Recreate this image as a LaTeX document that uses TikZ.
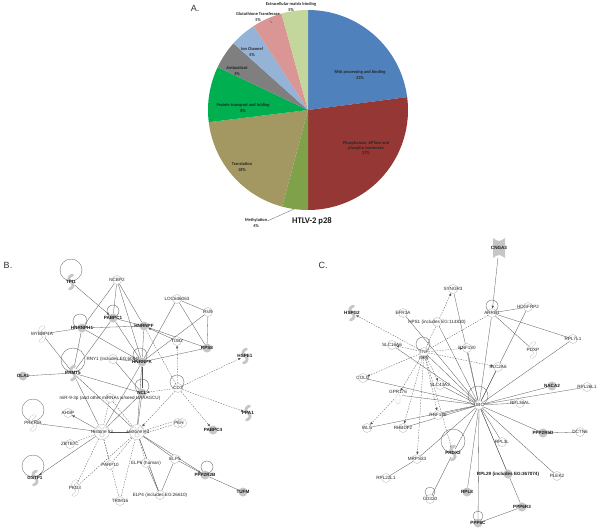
\documentclass[tikz,border=0pt]{standalone}
\usepackage{fontspec}
\setmainfont{Liberation Sans}
\newfontfamily\calfont{Carlito}
\usetikzlibrary{arrows.meta,calc}
\pgfdeclarelayer{bg}
\pgfdeclarelayer{paper}
\pgfsetlayers{paper,bg,main}
\newcommand{\netf}{\fontsize{4.6}{5}\selectfont}
\newcommand{\netfb}{\fontsize{4.6}{5}\selectfont\bfseries}
\newcommand{\Fm}[4]{\node[fm] (#1) at (#2,#3) {}; \node[lbb] (#1-t) at (#1) {#4};}
\newcommand{\Nd}[4]{\node[nd] (#1) at (#2,#3) {}; \node[lb] (#1-t) at (#1) {#4};}
\newcommand{\Cg}[4]{\pic at (#2,#3) {curlg}; \node[cn] (#1) at (#2,#3) {}; \node[lbb] (#1-t) at (#1) {#4};}
\newcommand{\Cw}[4]{\pic at (#2,#3) {curlw}; \node[cn] (#1) at (#2,#3) {}; \node[lb] (#1-t) at (#1) {#4};}
\definecolor{pblue}{HTML}{4F81BD}
\definecolor{pred}{HTML}{953735}
\definecolor{pmeth}{HTML}{7FA14A}
\definecolor{ptrans}{HTML}{A39862}
\definecolor{pgreen}{HTML}{00B050}
\definecolor{pgray}{HTML}{7F7F7F}
\definecolor{pion}{HTML}{95B3D7}
\definecolor{ppink}{HTML}{D99694}
\definecolor{plgreen}{HTML}{C3D69B}
\definecolor{edc}{HTML}{555555}
\tikzset{
  nd/.style={circle, draw=gray!60, fill=white, line width=0.3pt, minimum size=9pt, inner sep=0pt},
  fm/.style={circle, fill=gray!45, draw=none, minimum size=9pt, inner sep=0pt},
  cn/.style={circle, minimum size=9pt, inner sep=0pt},
  lb/.style={font=\netf, text=black!85, inner sep=0pt},
  lbb/.style={font=\netfb, text=black!90, inner sep=0pt},
  ed/.style={draw=edc, line width=0.3pt},
  dd/.style={ed, dash pattern=on 1.5pt off 1.2pt},
  ar/.style={-{Triangle[length=2.6pt,width=2.2pt]}},
  loopc/.style={draw=gray!70!black, line width=0.3pt},
  pl/.style={font=\calfont\bfseries\fontsize{4.4}{5.2}\selectfont, align=center, text=black!85, inner sep=0pt},
  pics/curlg/.style={code={\draw[line width=2.8pt, line cap=round, gray!45] (1.5,-7) .. controls (-3,-6) and (-3,-1) .. (0,0) .. controls (3,1) and (3,6) .. (-1.5,7);}},
  pics/curlw/.style={code={\draw[line width=3.2pt, line cap=round, gray!60] (1.5,-7) .. controls (-3,-6) and (-3,-1) .. (0,0) .. controls (3,1) and (3,6) .. (-1.5,7);
     \draw[line width=2.6pt, line cap=round, white] (1.5,-7) .. controls (-3,-6) and (-3,-1) .. (0,0) .. controls (3,1) and (3,6) .. (-1.5,7);}},
}
\begin{document}
\begin{tikzpicture}[x=1pt,y=-1pt]
\useasboundingbox (0,0) rectangle (600,530);
\begin{pgfonlayer}{paper}
\fill[white] (0,0) rectangle (600,530);
\end{pgfonlayer}

% ---------------- Panel A: pie ----------------
\begin{scope}[shift={(308,110)},x=1pt,y=1pt]
\fill[pblue] (0,0) -- (90:100) arc[start angle=90,end angle=7.4,radius=100] -- cycle;
\fill[pred] (0,0) -- (7.4:100) arc[start angle=7.4,end angle=-90,radius=100] -- cycle;
\fill[pmeth] (0,0) -- (-90:100) arc[start angle=-90,end angle=-105,radius=100] -- cycle;
\fill[ptrans] (0,0) -- (-105:100) arc[start angle=-105,end angle=-173,radius=100] -- cycle;
\fill[pgreen] (0,0) -- (-173:100) arc[start angle=-173,end angle=-205.4,radius=100] -- cycle;
\fill[pgray] (0,0) -- (-205.4:100) arc[start angle=-205.4,end angle=-221.8,radius=100] -- cycle;
\fill[pion] (0,0) -- (-221.8:100) arc[start angle=-221.8,end angle=-237.1,radius=100] -- cycle;
\fill[ppink] (0,0) -- (-237.1:100) arc[start angle=-237.1,end angle=-254.6,radius=100] -- cycle;
\fill[plgreen] (0,0) -- (-254.6:100) arc[start angle=-254.6,end angle=-270,radius=100] -- cycle;
\end{scope}
\node[font=\fontsize{9}{10}\selectfont, text=black!80] (labA) at (195,8) {A.};
\node[pl] (lrna) at (360,75) {RNA processing and binding\\23\%};
\node[pl] (lpho) at (366,148) {Phosphatase, APTase and\\phospho isomerase\\27\%};
\node[pl] (ltra) at (242,167) {Translation\\18\%};
\node[pl] (lpro) at (243,108) {Protein transport and folding\\8\%};
\node[pl] (lant) at (237,71) {Antioxidant\\4\%};
\node[pl] (lion) at (252,52) {Ion Channel\\5\%};
\node[pl] (lglu) at (258,17) {Glutathione Transferase\\5\%};
\node[pl] (lext) at (291,7) {Extracellular matrix binding\\5\%};
\node[pl] (lmet) at (256,223) {Methylation\\4\%};
\coordinate (metp) at (294,209);
\coordinate (glup) at (272,23);
\draw[gray!70!black, line width=0.3pt] (lmet.east) ++(0,-2) -- (metp);
\draw[gray!70!black, line width=0.3pt] (lglu.south east) ++(-10,-1) -- (glup);
\node[font=\calfont\bfseries\fontsize{8.6}{10}\selectfont, text=black!90] (htlv) at (312,221) {HTLV-2 p28};

\node[font=\fontsize{9}{10}\selectfont, text=black!80] (labB) at (8,265) {B.};
\node[font=\fontsize{9}{10}\selectfont, text=black!80] (labC) at (323,265) {C.};

% ---------------- Panel B ----------------
\draw[loopc] (71,270) circle[radius=11];
\draw[loopc] (113,311) circle[radius=6];
\draw[loopc] (80,321) circle[radius=7];
\draw[loopc] (73,360) circle[radius=12];
\draw[loopc] (140,355) circle[radius=7];
\draw[loopc] (142,386) circle[radius=7];
\draw[loopc] (177,382) circle[radius=7];
\draw[loopc] (33,410) circle[radius=11];
\draw[loopc] (33,466) circle[radius=11];
\draw[loopc] (207,467) circle[radius=6];

\Cg{tpi}{71}{282}{TPI1}
\Nd{ncbp2}{117}{280}{NCBP2}
\Fm{pabpc1}{113}{318}{PABPC1}
\Fm{hnrnph1}{82}{328}{HNRNPH1}
\Cw{mybbp}{42}{334}{MYBBP1A}
\Cg{prmt5}{73}{373}{PRMT5}
\Fm{ola1}{23}{376}{OLA1}
\Nd{rny1}{113}{359}{RNY1 (includes EG:6084)}
\Fm{hnrnpf}{144}{326}{HNRNPF}
\Fm{hnrnpk}{142}{362}{HNRNPK}
\Fm{ncl}{142}{393}{NCL}
\Nd{tob2}{177}{341}{TOB2}
\Nd{cd3}{178}{388}{CD3}
\Nd{loc}{177}{299}{LOC646063}
\Nd{rsl9}{208}{312}{Rsl9}
\Fm{rps8}{207}{348}{RPS8}
\Cg{hspe1}{245}{356}{HSPE1}
\Nd{mir}{110}{398}{miR-9-3p (and other miRNAs w/seed UAAAGCU)}
\Nd{ahsp}{68}{413}{AHSP}
\Cw{prkrir}{33}{423}{PRKRIR}
% complexes
\node[nd, minimum size=15pt] (h3) at (102,432) {};
\node[nd, minimum size=15pt] (h4) at (137,432) {};
\foreach \c/\dx/\dy in {h3/-3/-3, h3/3/-3, h3/0/3, h4/-3/-3, h4/3/-3, h4/0/3}
  \draw[gray!60, line width=0.3pt] ($(\c)+(\dx,\dy)$) circle[radius=2.2];
\node[lb] (h3-t) at (102,432) {Histone h3};
\node[lb] (h4-t) at (138,432) {Histone H4};
\Nd{zbtb}{70}{444}{ZBTB7C}
\Nd{parp10}{110}{465}{PARP10}
\Cg{gstp1}{35}{478}{GSTP1}
\Cw{pkd3}{75}{488}{PKD3}
\Nd{trim16}{120}{501}{TRIM16}
\Nd{elp4}{160}{495}{ELP4 (includes EG:26610)}
\Nd{elp6}{146}{463}{ELP6 (human)}
\Nd{elp5}{175}{459}{ELP5}
\node[nd] (peh) at (178,423) {};
\draw[gray!60, line width=0.3pt] (182,423) circle[radius=4.5];
\node[lb] (peh-t) at (179,423) {PEH};
\Fm{pabpc4}{213}{430}{PABPC4}
\Cg{ppa1}{248}{413}{PPA1}
\Fm{ppp2r2b}{205}{475}{PPP2R2B}
\Fm{tufm}{243}{492}{TUFM}

\begin{pgfonlayer}{bg}
\foreach \a/\b in {ncbp2/pabpc1, ncbp2/hnrnph1, ncbp2/hnrnpf, ncbp2/hnrnpk, pabpc1/prmt5, pabpc1/hnrnpk, pabpc1/hnrnpf,
  hnrnph1/hnrnpf, hnrnph1/mybbp, hnrnph1/prmt5, hnrnph1/hnrnpk, mybbp/prmt5, ola1/prmt5, prmt5/ncl, prmt5/h3, prmt5/h4,
  rny1/hnrnpk, rny1/ncl, hnrnpf/hnrnpk, hnrnpf/rps8, hnrnpk/loc, hnrnpk/rsl9, hnrnpk/rps8, hnrnpk/ncl, hnrnpk/h4, hnrnpk/h3,
  loc/rsl9, loc/rps8, rsl9/rps8, prkrir/h3, h3/h4, ncl/h4, ncl/h3, elp5/elp4, elp4/elp6, ppp2r2b/tufm, h4/elp5, h4/elp4, h4/ppp2r2b}
  \draw[ed] (\a) -- (\b);
\foreach \a/\b in {tpi/pabpc1, tob2/hnrnpf, h3/gstp1, h3/ahsp, elp5/ppp2r2b}
  \draw[ed,ar] (\a) -- (\b);
\foreach \a/\b in {cd3/tob2, cd3/hspe1, cd3/ncl, cd3/pabpc4, cd3/ppa1, cd3/h4}
  \draw[dd,ar] (\a) -- (\b);
\foreach \a/\b in {cd3/hnrnpf, h3/parp10, h3/pkd3, h3/trim16, h4/trim16, h4/parp10, h4/elp6, h3/zbtb, mir/h3, mir/h4, h4/pkd3, h4/elp4}
  \draw[dd] (\a) -- (\b);
\draw[dd] ([yshift=-1.5pt]h4.east) -- ([yshift=-1.5pt]peh.west);
\draw[dd] ([yshift=1.5pt]h4.east) -- ([yshift=1.5pt]peh.west);
\end{pgfonlayer}

% ---------------- Panel C ----------------
\draw[loopc] (423,344) circle[radius=7];
\draw[loopc] (492,306) circle[radius=6];
\draw[loopc] (478,396) circle[radius=10];
\draw[loopc] (453,441) circle[radius=12];
\draw[loopc] (478,516) circle[radius=5];
\draw[loopc] (430,492) circle[radius=5];

\fill[gray!45] (493,238) .. controls (499,242) .. (505,238) -- (505,258) .. controls (499,254) .. (493,258) -- cycle;
\node[minimum width=12pt, minimum height=20pt, inner sep=0pt] (cnga3) at (499,248) {};
\node[lbb] (cnga3-t) at (499,248) {CNGA3};
\Nd{syngr3}{453}{289}{SYNGR3}
\Cg{hspg2}{352}{313}{HSPG2}
\Nd{efr3a}{403}{313}{EFR3A}
\Nd{hps1}{437}{322}{HPS1 (includes EG:114830)}
\Nd{slc16a6}{392}{345}{SLC16A6}
\Nd{tnf}{424}{352}{TNF}
\node[lb] (nes-t) at (424,358) {NES};
\Nd{rnf130}{467}{348}{RNF130}
\Nd{colq}{363}{378}{COLQ}
\Nd{slc43a2}{440}{385}{SLC43A2}
\draw[gray!60, line width=0.3pt, fill=white, rounded corners=1.5pt] (396,394) rectangle (400,404);
\node[minimum size=8pt, inner sep=0pt] (gpr176) at (398,395) {};
\node[lb] (gpr176-t) at (398,392) {GPR176};
\Nd{arrb1}{492}{313}{ARRB1}
\Nd{hdgfrp2}{528}{307}{HDGFRP2}
\Nd{rpl7l1}{573}{339}{RPL7L1}
\Cw{pdxp}{533}{350}{PDXP}
\Nd{slc2a6}{498}{367}{SLC2A6}
\Fm{naca2}{552}{386}{NACA2}
\Nd{rpl26l1}{587}{387}{RPL26L1}
\Nd{ubc}{479}{405}{UBC}
\Nd{rpl36al}{520}{403}{RPL36AL}
\Fm{ppp2r5d}{543}{433}{PPP2R5D}
\Nd{dctn6}{580}{432}{DCTN6}
\Nd{rpl3l}{502}{442}{RPL3L}
\node[fm] (rpl29) at (508,474) {};
\node[lbb] (rpl29-t) at (508,474) {RPL29 (includes EG:367074)};
\Nd{plek2}{557}{476}{PLEK2}
\Cg{prdx2}{453}{453}{PRDX2}
\Fm{rpl8}{467}{492}{RPL8}
\Fm{ppp6r3}{522}{507}{PPP6R3}
\Fm{ppp6c}{478}{523}{PPP6C}
\Nd{rnf146}{438}{415}{RNF146}
\Nd{wls}{367}{428}{WLS}
\Nd{rhbdf2}{403}{428}{RHBDF2}
\Nd{mrps33}{417}{459}{MRPS33}
\Nd{rpl22l1}{386}{478}{RPL22L1}
\Nd{cd320}{430}{499}{CD320}

\begin{pgfonlayer}{bg}
\foreach \b in {syngr3, efr3a, hps1, slc16a6, tnf, rnf130, colq, slc43a2, gpr176, arrb1, hdgfrp2, rpl7l1, slc2a6, naca2,
  rpl26l1, rpl36al, ppp2r5d, rpl3l, rpl29, plek2, prdx2, rpl8, ppp6c, ppp6r3, rnf146, wls, rhbdf2, mrps33}
  \draw[ed] (ubc) -- (\b);
\foreach \a/\b in {arrb1/hdgfrp2, arrb1/rpl7l1, arrb1/pdxp, mrps33/rpl22l1, prdx2/cd320, ppp2r5d/dctn6, ppp6r3/ppp6c}
  \draw[ed] (\a) -- (\b);
\draw[ed,ar] (cnga3) -- (arrb1);
\foreach \b in {syngr3, hspg2, slc16a6, colq, gpr176, slc2a6, rnf146, rhbdf2, mrps33, prdx2, slc43a2, rnf130}
  \draw[dd,ar] (tnf) -- (\b);
\draw[dd] (arrb1) -- (tnf);
\draw[dd,ar] (gpr176) -- (wls);
\end{pgfonlayer}
\end{tikzpicture}
\end{document}
